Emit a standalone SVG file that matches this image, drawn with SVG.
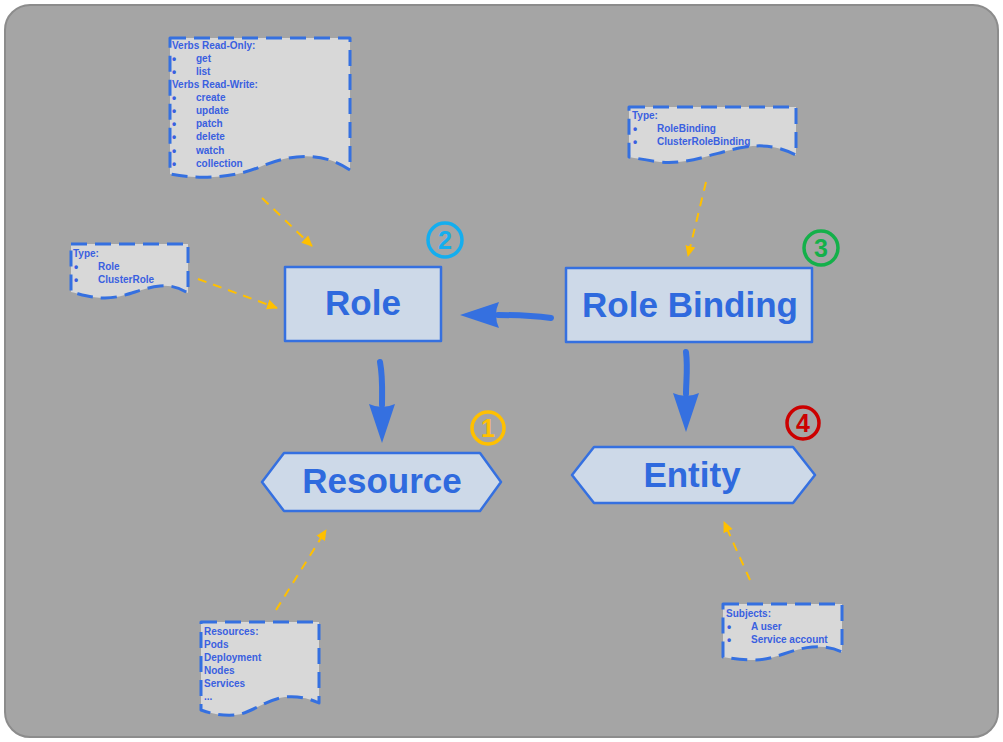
<svg xmlns="http://www.w3.org/2000/svg" width="1003" height="742" viewBox="0 0 1003 742">
<style>
.bg{fill:#a5a5a5;stroke:#8c8c8c;stroke-width:2}
.node{fill:#cdd9e8;stroke:#3570e0;stroke-width:2.5;stroke-linejoin:round}
.lbl{font-family:"Liberation Sans",Arial,sans-serif;font-weight:bold;font-size:35px;fill:#2f6ade;text-anchor:middle}
.note{fill:#d8d8d8;stroke:#3570e0;stroke-width:3;stroke-dasharray:16 8;stroke-linejoin:round}
.nt{font-family:"Liberation Sans",Arial,sans-serif;font-weight:bold;font-size:10px;fill:#3a60e0}
.bul{font-size:12px}
.blue{fill:none;stroke:#3570e0;stroke-width:6;stroke-linecap:round}
.yel{fill:none;stroke:#ffc000;stroke-width:2;stroke-dasharray:9 7}
.badge{fill:none;stroke-width:3.5}
.bn{font-family:"Liberation Sans",Arial,sans-serif;font-weight:bold;font-size:25px;text-anchor:middle}
</style>
<defs>
<marker id="bh" markerUnits="userSpaceOnUse" viewBox="0 0 40 28" markerWidth="40" markerHeight="28" refX="1" refY="14" orient="auto">
<path d="M0,1 L39,14 L0,27 Q6,14 0,1 Z" fill="#3570e0"/>
</marker>
<marker id="yh" markerUnits="userSpaceOnUse" viewBox="0 0 12 12" markerWidth="12" markerHeight="12" refX="10" refY="6" orient="auto">
<path d="M0,1 L11,6 L0,11 Z" fill="#ffc000"/>
</marker>
</defs>
<rect class="bg" x="5" y="5" width="993" height="732" rx="25"/>

<g id="connectors">
<path class="blue" d="M551,318 C535,316 515,315 498,315" marker-end="url(#bh)"/>
<path class="blue" d="M380,362 C383,378 382,392 382,405" marker-end="url(#bh)"/>
<path class="blue" d="M686,352 C688,368 686,382 686,394" marker-end="url(#bh)"/>
<path class="yel" d="M262,198 L312,246" marker-end="url(#yh)"/>
<path class="yel" d="M198,279 L277,308" marker-end="url(#yh)"/>
<path class="yel" d="M706,182 L688,256" marker-end="url(#yh)"/>
<path class="yel" d="M276,610 L326,530" marker-end="url(#yh)"/>
<path class="yel" d="M750,580 L724,522" marker-end="url(#yh)"/>
</g>

<g id="role">
<rect class="node" x="285" y="267" width="156" height="74"/>
<text class="lbl" x="363" y="315">Role</text>
</g>
<g id="rolebinding">
<rect class="node" x="566" y="268" width="246" height="74"/>
<text class="lbl" x="690" y="317">Role Binding</text>
</g>
<g id="resource">
<polygon class="node" points="262,482 284,453 480,453 501,482 480,511 284,511"/>
<text class="lbl" x="382" y="493">Resource</text>
</g>
<g id="entity">
<polygon class="node" points="572,475 594,447 793,447 815,475 793,503 594,503"/>
<text class="lbl" x="692" y="487">Entity</text>
</g>

<g id="badge1">
<circle class="badge" cx="488" cy="428" r="16" stroke="#ffc000"/>
<text class="bn" x="488" y="437" fill="#ffc000">1</text>
</g>
<g id="badge2">
<circle class="badge" cx="445" cy="240" r="17" stroke="#14aeef"/>
<text class="bn" x="445" y="249" fill="#14aeef">2</text>
</g>
<g id="badge3">
<circle class="badge" cx="821" cy="248" r="17" stroke="#14b04a"/>
<text class="bn" x="821" y="257" fill="#14b04a">3</text>
</g>
<g id="badge4">
<circle class="badge" cx="803" cy="423" r="16" stroke="#cc0000"/>
<text class="bn" x="803" y="432" fill="#cc0000">4</text>
</g>

<g id="note-verbs">
<path class="note" d="M170,38 H350 V170 C320,150 290,155 262,166 C235,178 200,180 170,174 Z"/>
<text class="nt" x="172" y="49">Verbs Read-Only:</text>
<text class="nt bul" x="172" y="63">•</text><text class="nt" x="196" y="62">get</text>
<text class="nt bul" x="172" y="76">•</text><text class="nt" x="196" y="75">list</text>
<text class="nt" x="172" y="88">Verbs Read-Write:</text>
<text class="nt bul" x="172" y="102">•</text><text class="nt" x="196" y="101">create</text>
<text class="nt bul" x="172" y="115">•</text><text class="nt" x="196" y="114">update</text>
<text class="nt bul" x="172" y="128">•</text><text class="nt" x="196" y="127">patch</text>
<text class="nt bul" x="172" y="141">•</text><text class="nt" x="196" y="140">delete</text>
<text class="nt bul" x="172" y="155">•</text><text class="nt" x="196" y="154">watch</text>
<text class="nt bul" x="172" y="168">•</text><text class="nt" x="196" y="167">collection</text>
</g>

<g id="note-rbtype">
<path class="note" d="M629,107 H796 V155 C780,147 765,144 745,147 C715,152 690,165 660,162 C645,160 635,158 629,157 Z"/>
<text class="nt" x="632" y="119">Type:</text>
<text class="nt bul" x="633" y="133">•</text><text class="nt" x="657" y="132">RoleBinding</text>
<text class="nt bul" x="633" y="146">•</text><text class="nt" x="657" y="145">ClusterRoleBinding</text>
</g>

<g id="note-roletype">
<path class="note" d="M71,244 H188 V293 C180,288 172,285 160,286 C140,288 125,298 105,298 C90,298 80,294 71,292 Z"/>
<text class="nt" x="73" y="257">Type:</text>
<text class="nt bul" x="74" y="271">•</text><text class="nt" x="98" y="270">Role</text>
<text class="nt bul" x="74" y="284">•</text><text class="nt" x="98" y="283">ClusterRole</text>
</g>

<g id="note-resources">
<path class="note" d="M201,622 H319 V703 C308,698 298,696 285,697 C265,700 250,714 235,715 C220,716 210,713 201,710 Z"/>
<text class="nt" x="204" y="635">Resources:</text>
<text class="nt" x="204" y="648">Pods</text>
<text class="nt" x="204" y="661">Deployment</text>
<text class="nt" x="204" y="674">Nodes</text>
<text class="nt" x="204" y="687">Services</text>
<text class="nt" x="204" y="700">...</text>
</g>

<g id="note-subjects">
<path class="note" d="M723,604 H842 V652 C834,648 824,646 812,647 C790,649 775,660 755,660 C740,660 730,658 723,657 Z"/>
<text class="nt" x="726" y="617">Subjects:</text>
<text class="nt bul" x="727" y="631">•</text><text class="nt" x="751" y="630">A user</text>
<text class="nt bul" x="727" y="644">•</text><text class="nt" x="751" y="643">Service account</text>
</g>
</svg>
